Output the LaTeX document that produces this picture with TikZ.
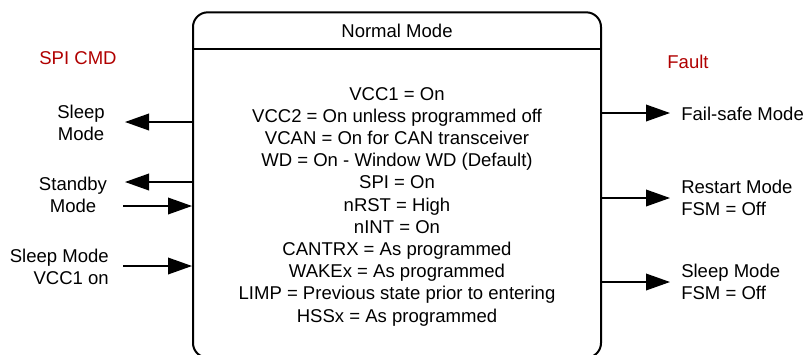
\documentclass[tikz,border=0pt]{standalone}
\usepackage{fontspec}
\setmainfont{Liberation Sans}
\usetikzlibrary{arrows.meta}
\definecolor{spired}{RGB}{176,0,0}
\tikzset{
  arr/.style={line width=1.1pt,-{Triangle[length=18pt,width=12.5pt]}},
  lbl/.style={inner sep=0pt,font=\fontsize{13.9}{16.65}\selectfont},
  redlbl/.style={lbl,text=spired},
}
\begin{document}
\begin{tikzpicture}[x=0.75pt,y=-0.75pt]
\useasboundingbox (0,0) rectangle (804,354);
\clip (0,0) rectangle (804,354);
% main box
\node[draw,line width=1.5pt,rounded corners=11pt,minimum width=306pt,minimum height=259pt,inner sep=0pt] (box) at (397,185) {};
\coordinate (hl) at (193,49);
\coordinate (hr) at (601,49);
\draw[line width=1.5pt] (box.west |- hl) -- (box.east |- hr);
\node[lbl] (title) at (397,30.5) {Normal Mode};
\node[lbl,align=center] (body) at (397,206.5) {VCC1 = On\\VCC2 = On unless programmed off\\VCAN = On for CAN transceiver\\WD = On - Window WD (Default)\\SPI = On\\nRST = High\\nINT = On\\CANTRX = As programmed\\WAKEx = As programmed\\LIMP = Previous state prior to entering\\HSSx = As programmed};
% left labels
\node[redlbl] (spi) at (78,58) {SPI CMD};
\node[lbl,align=center] (sleep) at (81,122.5) {Sleep\\Mode};
\node[lbl,align=center] (standby) at (73,194.5) {Standby\\Mode};
\node[lbl,align=right,anchor=east] (sleepvcc) at (109,266.5) {Sleep Mode\\VCC1 on};
% right labels
\node[redlbl] (fault) at (688,62) {Fault};
\node[lbl,anchor=west] (failsafe) at (681,113.5) {Fail-safe Mode};
\node[lbl,align=left,anchor=west] (restart) at (681,197.5) {Restart Mode\\FSM = Off};
\node[lbl,align=left,anchor=west] (sleepfsm) at (681,281.5) {Sleep Mode\\FSM = Off};
% arrow end points
\coordinate (a1) at (125,122);
\coordinate (a2) at (125,182);
\coordinate (a3) at (123,206);
\coordinate (a4) at (123,266);
\coordinate (b1) at (670,113);
\coordinate (b2) at (670,198);
\coordinate (b3) at (670,282);
\draw[arr] (box.west |- a1) -- (a1);
\draw[arr] (box.west |- a2) -- (a2);
\draw[arr] (a3) -- (box.west |- a3);
\draw[arr] (a4) -- (box.west |- a4);
\draw[arr] (box.east |- b1) -- (b1);
\draw[arr] (box.east |- b2) -- (b2);
\draw[arr] (box.east |- b3) -- (b3);
\end{tikzpicture}
\end{document}
